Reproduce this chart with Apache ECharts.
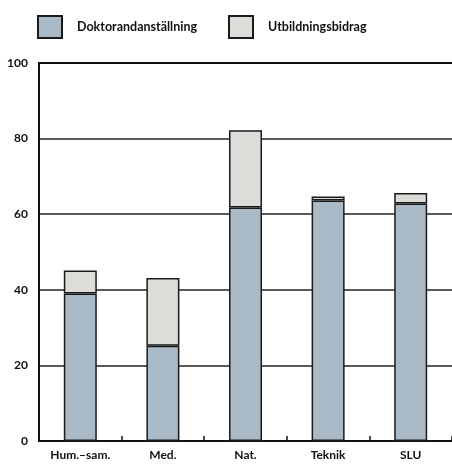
<!DOCTYPE html>
<html>
<head>
<meta charset="utf-8">
<script src="https://cdn.jsdelivr.net/npm/echarts@6/dist/echarts.min.js"></script>
<style>html,body{margin:0;padding:0;background:#fff}#c{width:452px;height:466px}</style>
</head>
<body>
<div id="c"></div>
<script>
var categories = ['Hum.\u2013sam.', 'Med.', 'Nat.', 'Teknik', 'SLU'];
var doktorand = [39, 25.2, 61.8, 63.6, 62.8];
var utbildning = [6.1, 17.9, 20.4, 1.1, 2.8];
var yTicks = [0, 20, 40, 60, 80, 100];
var seriesNames = ['Doktorandanställning', 'Utbildningsbidrag'];

var FONT = "Lato, 'Liberation Sans', sans-serif";
var chart = echarts.init(document.getElementById('c'), null, {renderer: 'canvas'});
var legendBase = {
  top: 15, padding: 0, itemWidth: 24, itemHeight: 22, icon: 'rect',
  textStyle: {fontFamily: FONT, fontWeight: 'bold', fontSize: 12.5, color: '#111', padding: [0, 0, 0, 10]}
};
chart.setOption({
  animation: false,
  backgroundColor: '#fff',
  legend: [
    Object.assign({}, legendBase, {data: [seriesNames[0]], left: 37}),
    Object.assign({}, legendBase, {data: [seriesNames[1]], left: 228})
  ],
  grid: {left: 39, right: 0, top: 63, bottom: 25, containLabel: false},
  xAxis: [{
    type: 'category', data: categories,
    axisLine: {lineStyle: {color: '#111', width: 2}},
    axisTick: {show: true, inside: true, length: 5, interval: 0, lineStyle: {color: '#111', width: 1.5}},
    axisLabel: {fontFamily: FONT, fontWeight: 'bold', fontSize: 12, color: '#111', margin: 8, interval: 0}
  }, {
    type: 'category', data: categories, position: 'top',
    axisLine: {lineStyle: {color: '#111', width: 2}},
    axisTick: {show: false}, axisLabel: {show: false}
  }],
  yAxis: {
    type: 'value', min: 0, max: 100, interval: 20,
    axisLine: {show: true, lineStyle: {color: '#111', width: 2}},
    axisTick: {show: false},
    axisLabel: {fontFamily: FONT, fontWeight: 'bold', fontSize: 12, color: '#111', margin: 11,
      formatter: function (v) { return yTicks.indexOf(v) >= 0 ? String(v) : ''; }},
    splitLine: {show: true, lineStyle: {color: '#222', width: 1.5}}
  },
  series: [{
    name: seriesNames[0], type: 'bar', stack: 's', data: doktorand, barWidth: 33,
    itemStyle: {color: '#a9bac6', borderColor: '#1a1a1a', borderWidth: 1.5}
  }, {
    name: seriesNames[1], type: 'bar', stack: 's', data: utbildning, barWidth: 33,
    itemStyle: {color: '#dcddd8', borderColor: '#1a1a1a', borderWidth: 1.5}
  }]
});
</script>
</body>
</html>
